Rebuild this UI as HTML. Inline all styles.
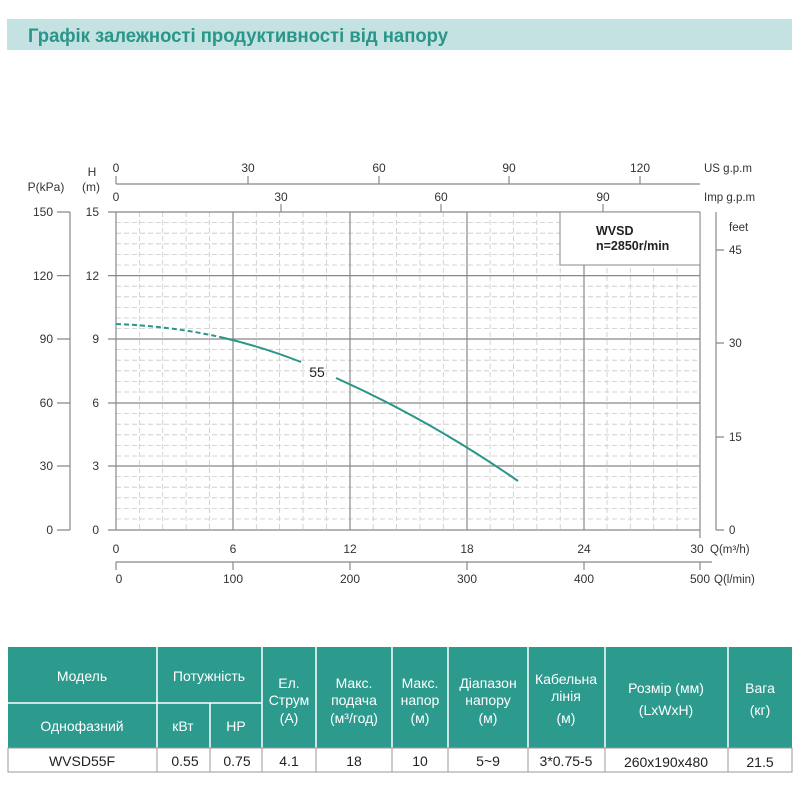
<!DOCTYPE html>
<html><head><meta charset="utf-8"><style>
html,body{margin:0;padding:0;background:#fff;width:800px;height:800px;overflow:hidden}
svg{display:block;font-family:"Liberation Sans",sans-serif}
</style></head><body>
<svg width="800" height="800" viewBox="0 0 800 800" xmlns="http://www.w3.org/2000/svg">
<rect x="7" y="19" width="785" height="31" fill="#c3e2e1"/>
<text x="28" y="42" font-size="19" font-weight="bold" fill="#2a958a" textLength="420" lengthAdjust="spacingAndGlyphs">Графік залежності продуктивності від напору</text>

<g id="grid">
<g stroke="#c8c8c8" stroke-width="0.8" stroke-dasharray="5,3">
<path d="M139.4 212V530M162.7 212V530M186.1 212V530M209.5 212V530M256.3 212V530M279.6 212V530M303 212V530M326.4 212V530M373.2 212V530M396.5 212V530M419.9 212V530M443.3 212V530M490.1 212V530M513.4 212V530M536.8 212V530M560.2 212V530M607 212V530M630.3 212V530M653.7 212V530M677.1 212V530"/>
<path d="M116 222.6H700M116 233.2H700M116 243.8H700M116 254.4H700M116 265H700M116 286.2H700M116 296.8H700M116 307.4H700M116 318H700M116 328.6H700M116 349.6H700M116 360.2H700M116 370.8H700M116 381.4H700M116 392H700M116 413.6H700M116 424.2H700M116 434.8H700M116 445.4H700M116 456H700M116 476.6H700M116 487.2H700M116 497.8H700M116 508.4H700M116 519H700"/>
</g>
<g stroke="#888" stroke-width="1.2" fill="none">
<path d="M116 212V530M233 212V530M350 212V530M467 212V530M584 212V530M700 212V538"/>
<path d="M108 275.6H700M108 339H700M108 403H700M108 466H700M108 530H700M108 212H700"/>
</g>
</g>

<rect x="560" y="212" width="140" height="53" fill="#fff" stroke="#888" stroke-width="1"/>
<text x="596" y="235" font-size="12.5" font-weight="bold" fill="#222">WVSD</text>
<text x="596" y="250" font-size="12.5" font-weight="bold" fill="#222">n=2850r/min</text>

<g stroke="#888" stroke-width="1.2" fill="none">
<path d="M116 184H700M116 176V184M248 176V184M379 176V184M509 176V184M640 176V184"/>
<path d="M281 204V212M441 204V212M603 204V212"/>
<path d="M70 212V530M57 212H70M57 275.6H70M57 339H70M57 403H70M57 466H70M57 530H70"/>
<path d="M716 212V530M716 250H724M716 343H724M716 437H724M716 530H724"/>
<path d="M116 562H712M116 562V570M233 562V570M350 562V570M467 562V570M584 562V570M700 562V570"/>
</g>
<g font-size="12" fill="#333" text-anchor="middle">
<text x="116" y="172">0</text><text x="248" y="172">30</text><text x="379" y="172">60</text><text x="509" y="172">90</text><text x="640" y="172">120</text>
<text x="116" y="201">0</text><text x="281" y="201">30</text><text x="441" y="201">60</text><text x="603" y="201">90</text>
<text x="116" y="553">0</text><text x="233" y="553">6</text><text x="350" y="553">12</text><text x="467" y="553">18</text><text x="584" y="553">24</text><text x="697" y="553">30</text>
<text x="119" y="583">0</text><text x="233" y="583">100</text><text x="350" y="583">200</text><text x="467" y="583">300</text><text x="584" y="583">400</text><text x="700" y="583">500</text>
<text x="92" y="176">H</text><text x="91" y="191">(m)</text>
<text x="46" y="191">P(kPa)</text>
</g>
<g font-size="11.5" fill="#333" text-anchor="start">
<text x="704" y="172">US g.p.m</text>
<text x="704" y="201">Imp g.p.m</text>
<text x="729" y="231">feet</text>
<text x="729" y="254">45</text><text x="729" y="347">30</text><text x="729" y="441">15</text><text x="729" y="534">0</text>
<text x="710" y="553">Q(m³/h)</text>
<text x="714" y="583">Q(l/min)</text>
</g>
<g font-size="12" fill="#333" text-anchor="end">
<text x="53" y="216">150</text><text x="53" y="280">120</text><text x="53" y="343">90</text><text x="53" y="407">60</text><text x="53" y="470">30</text><text x="53" y="534">0</text>
<text x="99" y="216">15</text><text x="99" y="280">12</text><text x="99" y="343">9</text><text x="99" y="407">6</text><text x="99" y="470">3</text><text x="99" y="534">0</text>
</g>

<path d="M116 324 Q170 326 220 337" stroke="#2a958a" stroke-width="2" fill="none" stroke-dasharray="5,3"/>
<path d="M220 337 Q260 346 301 362" stroke="#2a958a" stroke-width="2" fill="none"/>
<path d="M336 378 Q430 420 518 481" stroke="#2a958a" stroke-width="2" fill="none"/>
<text x="317" y="377" font-size="14" fill="#222" text-anchor="middle">55</text>

<rect x="8" y="647" width="784" height="101" fill="#2d9a8e"/>
<g stroke="#fff" stroke-width="1.5">
<path d="M157 647V748M262 647V748M316 647V748M392 647V748M448 647V748M528 647V748M605 647V748M728 647V748M8 703H262M210 703V748"/>
</g>
<rect x="8" y="748" width="784" height="24" fill="#fff" stroke="#999" stroke-width="1"/>
<path d="M157 748V772M210 748V772M262 748V772M316 748V772M392 748V772M448 748V772M528 748V772M605 748V772M728 748V772" stroke="#999" stroke-width="1"/>
<g font-size="14" fill="#fff" text-anchor="middle">
<text x="82" y="681">Модель</text>
<text x="209" y="681">Потужність</text>
<text x="82" y="731">Однофазний</text>
<text x="183" y="731">кВт</text>
<text x="236" y="731">HP</text>
<text x="289" y="688">Ел.</text><text x="289" y="705">Струм</text><text x="289" y="723">(A)</text>
<text x="354" y="688">Макс.</text><text x="354" y="705">подача</text><text x="354" y="723">(м³/год)</text>
<text x="420" y="688">Макс.</text><text x="420" y="705">напор</text><text x="420" y="723">(м)</text>
<text x="488" y="688">Діапазон</text><text x="488" y="705">напору</text><text x="488" y="723">(м)</text>
<text x="566" y="684">Кабельна</text><text x="566" y="701">лінія</text><text x="566" y="723">(м)</text>
<text x="666" y="693">Розмір (мм)</text><text x="666" y="715">(LxWxH)</text>
<text x="760" y="693">Вага</text><text x="760" y="715">(кг)</text>
</g>
<g font-size="14" fill="#222" text-anchor="middle">
<text x="82" y="766">WVSD55F</text>
<text x="185" y="766">0.55</text>
<text x="237" y="766">0.75</text>
<text x="289" y="766">4.1</text>
<text x="354" y="766">18</text>
<text x="420" y="766">10</text>
<text x="488" y="766">5~9</text>
<text x="566" y="766">3*0.75-5</text>
<text x="666" y="767">260x190x480</text>
<text x="760" y="767">21.5</text>
</g>
</svg>
</body></html>
